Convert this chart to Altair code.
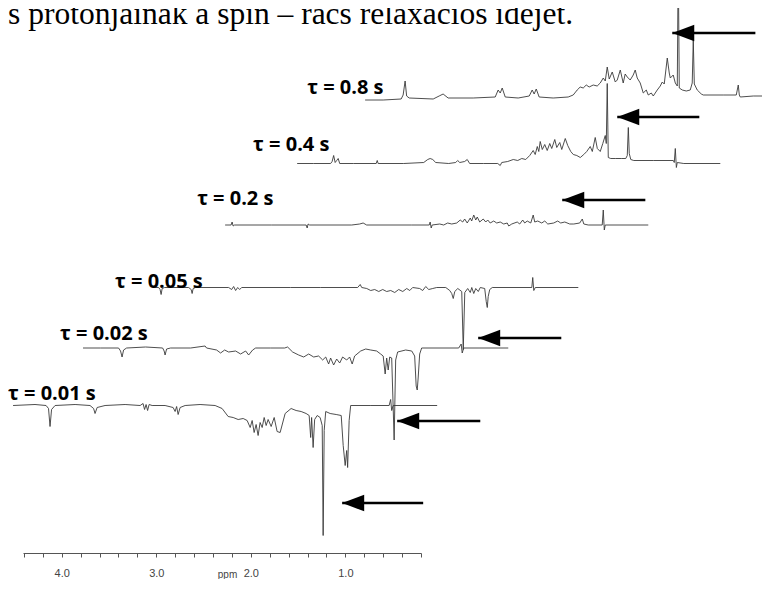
import altair as alt
import pandas as pd

# ---------------- data (chemical shift in ppm, intensity in arbitrary units) -------------
TAUS = ["τ = 0.01 s", "τ = 0.02 s", "τ = 0.05 s", "τ = 0.2 s", "τ = 0.4 s", "τ = 0.8 s"]

PPM_001 = [4.515, 4.283, 4.166, 4.140, 4.124, 4.108, 4.071, 3.859, 3.701, 3.663, 3.648, 3.626, 3.542, 3.330,
           3.171, 3.140, 3.124, 3.108, 3.092, 3.076, 3.044, 2.907, 2.822, 2.801, 2.785, 2.769, 2.748, 2.695,
           2.537, 2.378, 2.304, 2.240, 2.187, 2.134, 2.081, 2.039, 2.007, 1.986, 1.965, 1.944, 1.923, 1.902,
           1.880, 1.859, 1.838, 1.817, 1.785, 1.753, 1.722, 1.690, 1.637, 1.574, 1.521, 1.468, 1.415, 1.383,
           1.367, 1.357, 1.341, 1.325, 1.298, 1.267, 1.245, 1.235, 1.224, 1.208, 1.161, 1.097, 1.044, 1.023,
           1.002, 0.986, 0.976, 0.960, 0.944, 0.738, 0.537, 0.521, 0.510, 0.494, 0.029]
INT_001 = [0, 1, 0, -3, -21, -4, 0, 1, 0, -3, -8, -2, 0, 1, 0, 2, -4, 1, -5, 1, 0, 0, -2, -6, -1, -9, -2, 0,
           1, 0, -3, -11, -12, -14, -13, -15, -22, -15, -27, -19, -30, -17, -22, -12, -20, -14, -21, -12, -26,
           -27, -8, -3, -5, -6, -8, -10, -32, -12, -42, -14, -10, -12, -20, -130, -25, -6, -8, -9, -10, -40,
           -60, -45, -62, -15, 0, 0, 0, 6, -5, 0, 0]

PPM_002 = [4.521, 4.335, 4.145, 4.124, 4.108, 4.092, 4.060, 3.859, 3.679, 3.663, 3.653, 3.637, 3.595, 3.383,
           3.230, 3.214, 3.108, 3.066, 3.023, 2.981, 2.907, 2.854, 2.801, 2.769, 2.727, 2.695, 2.537, 2.388,
           2.357, 2.304, 2.240, 2.187, 2.134, 2.081, 2.029, 1.986, 1.954, 1.923, 1.902, 1.870, 1.838, 1.806,
           1.775, 1.732, 1.701, 1.674, 1.648, 1.584, 1.531, 1.478, 1.415, 1.373, 1.346, 1.325, 1.309, 1.293,
           1.277, 1.256, 1.230, 1.214, 1.193, 1.108, 1.044, 1.013, 0.997, 0.986, 0.976, 0.960, 0.939, 0.547,
           0.521, 0.510, 0.494, 0.023]
INT_002 = [0, 0, 0, -3, -9, -2, 0, 1, 0, -3, -7, -1, 0, 0, 2, 0, -2, -5, -2, -4, -3, -6, -3, -7, -2, 0, 0, 0,
           1, -4, -7, -9, -6, -9, -8, -12, -9, -16, -10, -17, -11, -15, -9, -12, -9, -16, -8, -3, -1, -2, -3,
           -6, -8, -26, -10, -22, -9, -10, -92, -12, -4, -2, -3, -8, -38, -42, -30, -6, 0, 0, 4, -5, 0, 0]

PPM_005 = [4.521, 4.462, 4.447, 4.436, 4.425, 4.399, 4.145, 4.118, 4.108, 4.097, 4.071, 3.722, 3.690, 3.669,
           3.648, 3.626, 3.605, 3.584, 3.066, 2.748, 2.357, 2.330, 2.314, 2.261, 2.219, 2.177, 2.134, 2.092,
           2.050, 2.007, 1.965, 1.923, 1.880, 1.838, 1.806, 1.775, 1.701, 1.669, 1.637, 1.605, 1.563, 1.521,
           1.425, 1.383, 1.362, 1.346, 1.330, 1.298, 1.256, 1.240, 1.224, 1.193, 1.166, 1.150, 1.129, 1.108,
           1.081, 1.060, 1.013, 0.997, 0.986, 0.976, 0.960, 0.933, 0.515, 0.505, 0.494, 0.478, 0.023]
INT_005 = [0, 0, -2, -7, -1, 0, 0, -2, -6, -1, 0, 0, -2, 1, -3, 0, -2, 0, 0, 0, 0, 3, 0, -1, -3, -2, -4, -2,
           -4, -3, -5, -2, -4, -1, -3, 0, -1, -3, 1, -2, -1, 0, 0, -3, -6, -11, -4, -1, -4, -62, -5, -1, -5, 0,
           -6, -1, -4, 0, -1, -14, -20, -9, -2, 0, 0, 10, -3, 0, 0]

PPM_02 = [4.510, 4.447, 4.436, 4.425, 4.410, 4.018, 3.653, 3.642, 3.632, 3.616, 3.171, 3.087, 3.050, 3.013,
          2.537, 2.351, 2.341, 2.330, 2.320, 2.240, 2.198, 2.156, 2.113, 2.060, 2.023, 1.997, 1.976, 1.949,
          1.917, 1.902, 1.880, 1.859, 1.843, 1.817, 1.780, 1.753, 1.732, 1.706, 1.669, 1.637, 1.600, 1.563,
          1.526, 1.510, 1.478, 1.420, 1.394, 1.362, 1.341, 1.314, 1.277, 1.251, 1.235, 1.203, 1.161, 1.129,
          1.097, 1.034, 0.992, 0.960, 0.917, 0.865, 0.822, 0.759, 0.732, 0.716, 0.669, 0.521, 0.510, 0.499,
          0.489, 0.034]
INT_02 = [0, 0, 3, -1, 0, 0, 0, -3, 1, 0, 0, 1, 2, 0, 0, 0, 3, -3, 0, 1, 0, 2, 1, 2, 5, 3, 6, 2, 7, 4, 10, 5,
          8, 3, 6, 3, 5, 2, 4, 2, 3, 1, 2, -1, 1, 3, 1, 5, 2, 4, 2, 10, 3, 4, 2, 4, 1, 2, 4, 2, 3, 1, 1, 2, 6,
          1, 0, 0, 15, -5, 0, 0]

PPM_04 = [4.510, 4.335, 4.156, 4.140, 4.124, 4.108, 4.092, 4.076, 4.060, 3.912, 3.674, 3.663, 3.653, 3.383,
          3.171, 3.129, 3.103, 3.076, 3.044, 2.907, 2.833, 2.812, 2.790, 2.738, 2.711, 2.685, 2.537, 2.388,
          2.362, 2.346, 2.283, 2.224, 2.177, 2.134, 2.092, 2.050, 2.013, 1.992, 1.970, 1.954, 1.939, 1.917,
          1.891, 1.865, 1.838, 1.817, 1.785, 1.764, 1.732, 1.711, 1.674, 1.648, 1.616, 1.589, 1.552, 1.515,
          1.478, 1.447, 1.410, 1.388, 1.357, 1.335, 1.304, 1.277, 1.251, 1.240, 1.230, 1.219, 1.193, 1.140,
          1.076, 1.034, 1.018, 1.007, 0.997, 0.981, 0.949, 0.738, 0.531, 0.521, 0.510, 0.499, 0.489, 0.420,
          0.034]
INT_04 = [0, 0, 0, 2, 8, 1, 3, 5, 0, 0, 0, 3, 0, 0, 1, 4, 5, 4, 1, 0, 1, 3, 1, 2, 4, 0, 0, 0, -2, 1, 2, 4, 3,
          5, 4, 8, 13, 9, 17, 12, 22, 14, 19, 13, 20, 15, 24, 16, 21, 14, 25, 18, 12, 9, 8, 6, 9, 12, 17, 12,
          26, 15, 12, 20, 28, 20, 80, 6, 5, 5, 5, 5, 8, 36, 10, 4, 3, 3, 3, 1, 15, -4, 1, 0, 0]

PPM_08 = [4.526, 4.335, 4.145, 4.124, 4.103, 4.087, 4.060, 3.806, 3.743, 3.701, 3.648, 3.383, 3.150, 3.119,
          3.097, 3.076, 3.044, 2.907, 2.790, 2.759, 2.738, 2.716, 2.685, 2.537, 2.378, 2.325, 2.283, 2.251,
          2.219, 2.187, 2.156, 2.113, 2.071, 2.039, 2.007, 1.986, 1.965, 1.944, 1.912, 1.880, 1.859, 1.827,
          1.796, 1.775, 1.753, 1.722, 1.690, 1.669, 1.648, 1.616, 1.584, 1.552, 1.531, 1.499, 1.478, 1.436,
          1.404, 1.383, 1.362, 1.330, 1.309, 1.298, 1.267, 1.245, 1.224, 1.214, 1.203, 1.171, 1.129, 1.087,
          1.066, 1.055, 1.044, 1.013, 0.970, 0.949, 0.738, 0.600, 0.579, 0.568, 0.558, 0.420, 0.240]
INT_08 = [-2, -2, -1, 3, 17, 2, 0, -1, 2, 4, 0, 0, 1, 8, 5, 10, 1, 0, 2, 8, 4, 9, 1, 0, 1, 3, 8, 11, 10, 13,
          11, 13, 12, 15, 20, 17, 31, 19, 26, 16, 18, 28, 15, 24, 21, 18, 23, 28, 20, 15, 5, 8, 3, 5, 2, 8,
          12, 16, 14, 40, 25, 20, 23, 15, 12, 140, 10, 8, 7, 8, 15, 58, 14, 8, 4, 3, 3, 3, 13, 3, 1, 2, 2]

# arrows: tip / tail (display ppm) and height (display units)
ARROW_TIP = [-2.458, -1.876, -1.294, -0.405, 0.452, 1.034]
ARROW_TAIL = [-3.337, -2.744, -2.173, -1.284, -0.427, 0.177]
ARROW_Y = [520, 436, 353, 215, 132, 50]

# spectrum label anchors (display ppm, display units)
LABEL_PPM = [4.568, 4.018, 3.436, 2.568, 1.976, 1.404]
LABEL_Y = [159, 219, 271, 354, 408, 465]

CAPTION = "s protonjainak a spin – rács relaxációs idejét."
TICK_VALUES = [4.4, 4.2, 4.0, 3.8, 3.6, 3.4, 3.2, 3.0, 2.8, 2.6, 2.4, 2.2, 2.0, 1.8, 1.6, 1.4, 1.2, 1.0,
               0.8, 0.6, 0.4, 0.2]

# ---------------- stacking layout (skewed stack plot) ----------------
STACK_SHIFT = [0.0, 0.746, 1.487, 2.238, 3.000, 3.735]      # horizontal skew, ppm
STACK_OFFSET = [147.5, 205, 265.5, 328, 389.5, 455]          # vertical baseline

spectra = [(PPM_001, INT_001), (PPM_002, INT_002), (PPM_005, INT_005),
           (PPM_02, INT_02), (PPM_04, INT_04), (PPM_08, INT_08)]
rows = []
for k, (pp, ii) in enumerate(spectra):
    for j, (p, v) in enumerate(zip(pp, ii)):
        rows.append({"tau": TAUS[k], "i": j, "x": p - STACK_SHIFT[k], "y": STACK_OFFSET[k] + v})
df_lines = pd.DataFrame(rows)

df_arrows = pd.DataFrame({"tip": ARROW_TIP, "tail": ARROW_TAIL, "y": ARROW_Y})
df_labels = pd.DataFrame({"label": TAUS, "x": LABEL_PPM, "y": LABEL_Y})
df_caption = pd.DataFrame({"label": [CAPTION], "x": [4.568], "y": [529.5]})

xscale = alt.Scale(domain=[4.41, 0.2], nice=False, zero=False)
yscale = alt.Scale(domain=[0, 545], nice=False, zero=False)
xaxis = alt.Axis(
    values=TICK_VALUES,
    labelExpr="abs(datum.value - round(datum.value)) < 0.001 ? format(datum.value, '.1f') : ''",
    title="ppm", titleFontSize=10, titleFontWeight="normal", titleColor="#444",
    titleFont="Liberation Sans", titleX=204, titleY=16, titleAlign="center", titleBaseline="top",
    labelFont="Liberation Sans", labelFontSize=11, labelColor="#444", labelPadding=10,
    labelFlush=False, labelOverlap=False,
    domainColor="#555", domainWidth=1, tickColor="#555", tickSize=4, tickWidth=1, grid=False,
)

lines = alt.Chart(df_lines).mark_line(color="#3a3a3a", strokeWidth=0.9, clip=False).encode(
    x=alt.X("x:Q", scale=xscale, axis=xaxis),
    y=alt.Y("y:Q", scale=yscale, axis=None),
    detail="tau:N",
    order="i:Q",
)

shafts = alt.Chart(df_arrows).mark_rule(color="black", strokeWidth=2.6, clip=False).encode(
    x=alt.X("tip:Q", scale=xscale, axis=xaxis),
    x2="tail:Q",
    y=alt.Y("y:Q", scale=yscale, axis=None),
)
heads = alt.Chart(df_arrows).mark_point(
    shape="M0,0L2,-0.76L2,0.76Z", size=484, filled=True, color="black", opacity=1, strokeWidth=0, clip=False
).encode(
    x=alt.X("tip:Q", scale=xscale, axis=xaxis),
    y=alt.Y("y:Q", scale=yscale, axis=None),
)

labels = alt.Chart(df_labels).mark_text(
    font="Open Sans", fontWeight="bold", fontSize=20, align="left", baseline="middle", color="black", clip=False
).encode(
    x=alt.X("x:Q", scale=xscale, axis=xaxis),
    y=alt.Y("y:Q", scale=yscale, axis=None),
    text="label:N",
)

caption = alt.Chart(df_caption).mark_text(
    font="Liberation Serif", fontSize=31.5, align="left", baseline="alphabetic", color="black", clip=False
).encode(
    x=alt.X("x:Q", scale=xscale, axis=xaxis),
    y=alt.Y("y:Q", scale=yscale, axis=None),
    text="label:N",
)

chart = alt.layer(lines, shafts, heads, labels, caption).properties(
    width=398,
    height=545,
    padding={"left": 15, "top": 0, "right": 341, "bottom": 26},
    autosize=alt.AutoSizeParams(type="none"),
    background="white",
).configure_view(stroke=None)

chart.save("out.html", embed_options={"renderer": "svg", "actions": False})
